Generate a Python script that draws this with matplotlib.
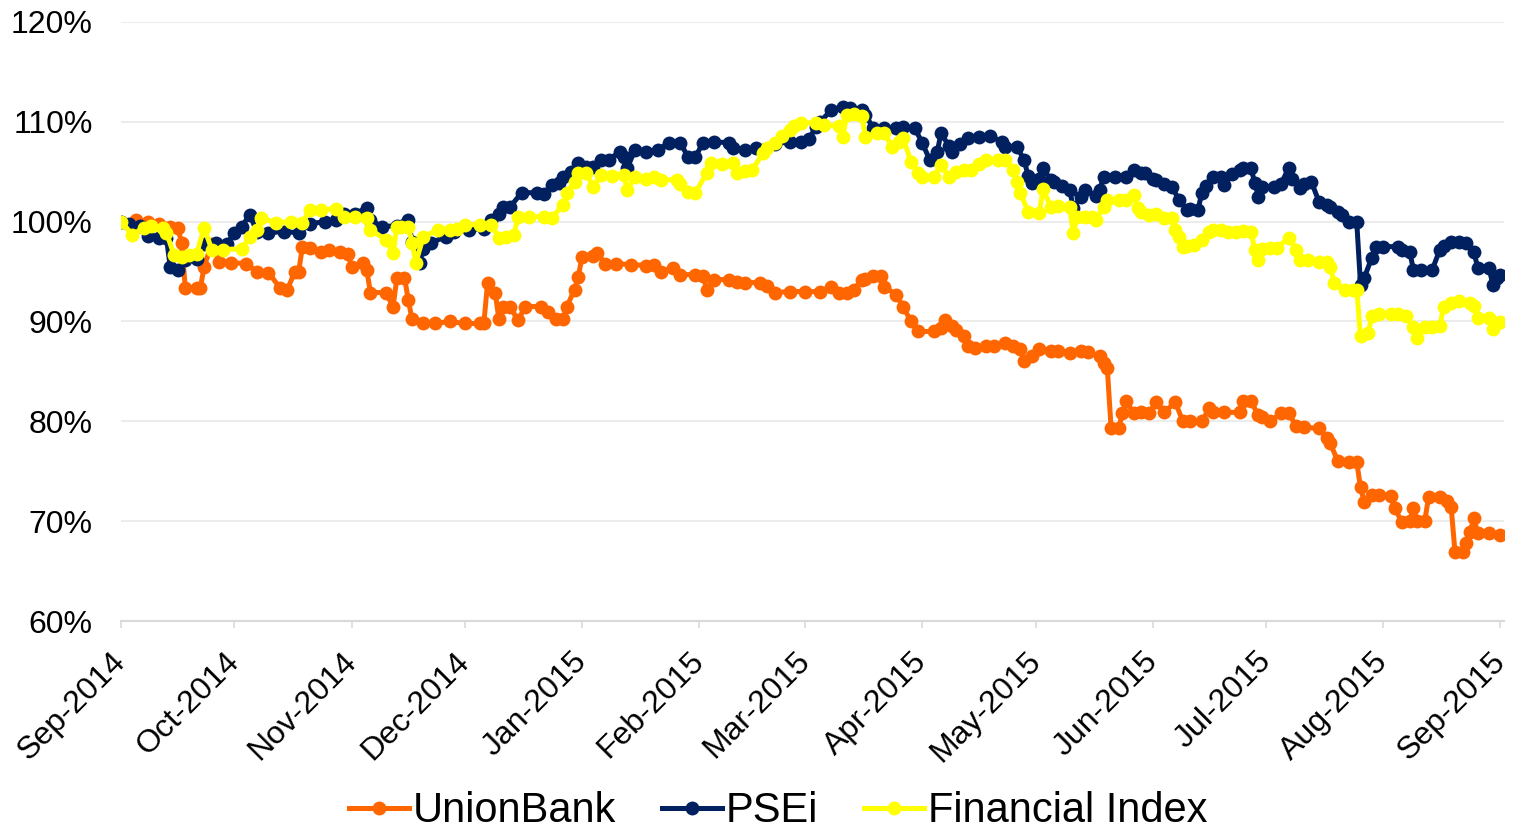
import pandas as pd
import matplotlib
matplotlib.use("Agg")
import matplotlib.pyplot as plt
import matplotlib.dates as mdates
from matplotlib.ticker import FuncFormatter
from matplotlib.transforms import ScaledTranslation

plt.rcParams['font.family'] = ['Liberation Sans', 'DejaVu Sans']

# values (relative to 1 Sep 2014, in %)
ub_dates = ["2014-09-01", "2014-09-05", "2014-09-08", "2014-09-11", "2014-09-14", "2014-09-16", "2014-09-17",
            "2014-09-18", "2014-09-21", "2014-09-22", "2014-09-23", "2014-09-25", "2014-09-27", "2014-09-30",
            "2014-10-04", "2014-10-07", "2014-10-10", "2014-10-13", "2014-10-15", "2014-10-17", "2014-10-18",
            "2014-10-19", "2014-10-21", "2014-10-24", "2014-10-26", "2014-10-29", "2014-10-31", "2014-11-01",
            "2014-11-04", "2014-11-05", "2014-11-06", "2014-11-10", "2014-11-12", "2014-11-13", "2014-11-15",
            "2014-11-16", "2014-11-17", "2014-11-20", "2014-11-23", "2014-11-27", "2014-12-01", "2014-12-05",
            "2014-12-06", "2014-12-07", "2014-12-09", "2014-12-10", "2014-12-11", "2014-12-13", "2014-12-15",
            "2014-12-17", "2014-12-21", "2014-12-23", "2014-12-25", "2014-12-27", "2014-12-28", "2014-12-30",
            "2014-12-31", "2015-01-01", "2015-01-04", "2015-01-05", "2015-01-07", "2015-01-10", "2015-01-14",
            "2015-01-18", "2015-01-20", "2015-01-22", "2015-01-25", "2015-01-27", "2015-01-31", "2015-02-02",
            "2015-02-03", "2015-02-05", "2015-02-09", "2015-02-11", "2015-02-13", "2015-02-17", "2015-02-19",
            "2015-02-21", "2015-02-25", "2015-03-01", "2015-03-05", "2015-03-08", "2015-03-10", "2015-03-12",
            "2015-03-14", "2015-03-16", "2015-03-17", "2015-03-19", "2015-03-21", "2015-03-22", "2015-03-25",
            "2015-03-27", "2015-03-29", "2015-03-31", "2015-04-04", "2015-04-06", "2015-04-07", "2015-04-09",
            "2015-04-10", "2015-04-12", "2015-04-13", "2015-04-15", "2015-04-18", "2015-04-20", "2015-04-23",
            "2015-04-25", "2015-04-27", "2015-04-28", "2015-04-30", "2015-05-02", "2015-05-05", "2015-05-07",
            "2015-05-10", "2015-05-13", "2015-05-15", "2015-05-18", "2015-05-19", "2015-05-20", "2015-05-21",
            "2015-05-23", "2015-05-24", "2015-05-25", "2015-05-27", "2015-05-29", "2015-05-31", "2015-06-02",
            "2015-06-04", "2015-06-07", "2015-06-09", "2015-06-11", "2015-06-14", "2015-06-16", "2015-06-17",
            "2015-06-20", "2015-06-24", "2015-06-25", "2015-06-27", "2015-06-29", "2015-06-30", "2015-07-02",
            "2015-07-05", "2015-07-07", "2015-07-09", "2015-07-11", "2015-07-15", "2015-07-17", "2015-07-18",
            "2015-07-20", "2015-07-23", "2015-07-25", "2015-07-26", "2015-07-27", "2015-07-29", "2015-07-31",
            "2015-08-03", "2015-08-04", "2015-08-06", "2015-08-08", "2015-08-09", "2015-08-10", "2015-08-12",
            "2015-08-13", "2015-08-16", "2015-08-18", "2015-08-19", "2015-08-20", "2015-08-22", "2015-08-23",
            "2015-08-24", "2015-08-25", "2015-08-26", "2015-08-29", "2015-09-01"]
ub_vals = [100.0, 100.2, 100.0, 99.8, 99.5, 99.4, 97.9,
           93.4, 93.4, 93.4, 95.5, 97.8, 96.0, 95.9,
           95.8, 95.0, 94.9, 93.4, 93.2, 95.0, 95.0,
           97.5, 97.4, 97.0, 97.2, 97.0, 96.8, 95.5,
           95.9, 95.2, 92.9, 92.9, 91.5, 94.4, 94.4,
           92.2, 90.2, 89.8, 89.8, 90.0, 89.8, 89.8,
           89.8, 93.9, 92.9, 90.2, 91.5, 91.5, 90.1,
           91.5, 91.5, 91.0, 90.2, 90.2, 91.5, 93.2,
           94.5, 96.5, 96.6, 96.9, 95.8, 95.8, 95.7,
           95.6, 95.7, 95.0, 95.4, 94.7, 94.7, 94.6,
           93.2, 94.2, 94.2, 94.0, 93.9, 93.9, 93.6,
           92.9, 93.0, 93.0, 93.0, 93.5, 92.9, 92.9,
           93.2, 94.2, 94.3, 94.6, 94.6, 93.5, 92.7,
           91.5, 90.0, 89.0, 89.0, 89.3, 90.1, 89.5,
           89.1, 88.5, 87.5, 87.3, 87.5, 87.5, 87.8,
           87.5, 87.2, 86.0, 86.5, 87.2, 87.0, 87.0,
           86.8, 87.0, 86.9, 86.5, 85.8, 85.3, 79.3,
           79.3, 80.8, 82.0, 80.8, 80.9, 80.8, 81.9,
           80.9, 81.9, 80.0, 80.0, 80.0, 81.3, 80.9,
           80.9, 80.9, 82.0, 82.0, 80.6, 80.4, 80.0,
           80.8, 80.8, 79.5, 79.4, 79.3, 78.3, 77.8,
           76.0, 75.9, 75.9, 73.4, 71.9, 72.6, 72.6,
           72.5, 71.3, 69.9, 70.0, 71.3, 70.0, 70.0,
           72.4, 72.4, 72.0, 71.4, 66.9, 66.9, 67.8,
           68.9, 70.3, 68.8, 68.8, 68.6]

psei_dates = ["2014-09-01", "2014-09-03", "2014-09-06", "2014-09-08", "2014-09-11", "2014-09-13", "2014-09-14",
              "2014-09-16", "2014-09-18", "2014-09-21", "2014-09-23", "2014-09-26", "2014-09-29", "2014-10-01",
              "2014-10-03", "2014-10-05", "2014-10-07", "2014-10-10", "2014-10-14", "2014-10-18", "2014-10-21",
              "2014-10-25", "2014-10-28", "2014-10-30", "2014-11-02", "2014-11-05", "2014-11-06", "2014-11-09",
              "2014-11-13", "2014-11-15", "2014-11-16", "2014-11-17", "2014-11-19", "2014-11-20", "2014-11-22",
              "2014-11-26", "2014-11-28", "2014-12-02", "2014-12-06", "2014-12-08", "2014-12-10", "2014-12-11",
              "2014-12-13", "2014-12-16", "2014-12-20", "2014-12-22", "2014-12-24", "2014-12-26", "2014-12-27",
              "2014-12-29", "2014-12-31", "2015-01-02", "2015-01-04", "2015-01-06", "2015-01-08", "2015-01-11",
              "2015-01-12", "2015-01-13", "2015-01-15", "2015-01-18", "2015-01-21", "2015-01-24", "2015-01-27",
              "2015-01-29", "2015-01-31", "2015-02-02", "2015-02-05", "2015-02-09", "2015-02-10", "2015-02-13",
              "2015-02-16", "2015-02-18", "2015-02-21", "2015-02-25", "2015-02-28", "2015-03-02", "2015-03-04",
              "2015-03-05", "2015-03-08", "2015-03-11", "2015-03-13", "2015-03-16", "2015-03-17", "2015-03-19",
              "2015-03-22", "2015-03-25", "2015-03-27", "2015-03-30", "2015-04-01", "2015-04-03", "2015-04-05",
              "2015-04-06", "2015-04-08", "2015-04-09", "2015-04-11", "2015-04-13", "2015-04-16", "2015-04-19",
              "2015-04-22", "2015-04-23", "2015-04-26", "2015-04-28", "2015-04-29", "2015-04-30", "2015-05-02",
              "2015-05-03", "2015-05-05", "2015-05-06", "2015-05-08", "2015-05-10", "2015-05-11", "2015-05-13",
              "2015-05-14", "2015-05-17", "2015-05-18", "2015-05-19", "2015-05-22", "2015-05-25", "2015-05-27",
              "2015-05-29", "2015-05-30", "2015-06-01", "2015-06-02", "2015-06-04", "2015-06-06", "2015-06-08",
              "2015-06-10", "2015-06-11", "2015-06-13", "2015-06-14", "2015-06-15", "2015-06-17", "2015-06-19",
              "2015-06-20", "2015-06-22", "2015-06-24", "2015-06-25", "2015-06-27", "2015-06-28", "2015-06-29",
              "2015-06-30", "2015-07-03", "2015-07-05", "2015-07-07", "2015-07-08", "2015-07-10", "2015-07-11",
              "2015-07-13", "2015-07-15", "2015-07-17", "2015-07-18", "2015-07-20", "2015-07-21", "2015-07-23",
              "2015-07-25", "2015-07-26", "2015-07-27", "2015-07-29", "2015-07-30", "2015-08-01", "2015-08-05",
              "2015-08-06", "2015-08-08", "2015-08-09", "2015-08-11", "2015-08-14", "2015-08-16", "2015-08-17",
              "2015-08-19", "2015-08-21", "2015-08-23", "2015-08-25", "2015-08-26", "2015-08-29", "2015-08-30",
              "2015-08-31", "2015-09-01"]
psei_vals = [100.0, 99.8, 99.6, 98.6, 98.4, 98.4, 95.5,
             95.2, 96.2, 96.3, 97.8, 97.9, 97.8, 98.9,
             99.5, 100.7, 99.0, 98.9, 99.0, 98.9, 99.8,
             100.0, 100.2, 100.8, 100.8, 101.4, 100.2, 99.5,
             99.6, 99.7, 100.2, 98.0, 95.9, 97.3, 97.9,
             98.5, 99.0, 99.2, 99.3, 100.2, 100.8, 101.5,
             101.5, 102.9, 102.9, 102.8, 103.7, 103.9, 104.5,
             105.0, 105.9, 105.5, 105.5, 106.2, 106.2, 107.0,
             106.5, 105.4, 107.2, 107.0, 107.2, 107.9, 107.9,
             106.5, 106.5, 107.9, 108.0, 107.9, 107.4, 107.2,
             107.4, 107.2, 107.8, 108.0, 108.0, 108.3, 109.5,
             110.0, 111.2, 111.5, 111.4, 111.2, 110.7, 109.4,
             109.4, 109.4, 109.5, 109.4, 107.9, 106.2, 107.0,
             108.9, 107.6, 107.0, 107.8, 108.4, 108.5, 108.6,
             108.0, 107.5, 107.5, 106.2, 104.6, 103.9, 104.3,
             105.4, 104.2, 104.0, 103.6, 103.2, 101.4, 102.5,
             103.2, 102.6, 103.2, 104.5, 104.5, 104.5, 105.2,
             104.9, 104.9, 104.3, 104.2, 103.8, 103.5, 102.2,
             101.2, 101.3, 101.2, 102.9, 103.6, 104.5, 104.5,
             103.7, 104.8, 105.2, 105.4, 105.4, 103.9, 102.5,
             103.5, 103.5, 103.8, 105.4, 104.3, 103.4, 103.8,
             104.0, 102.0, 101.7, 101.5, 101.0, 100.7, 100.0,
             100.0, 93.7, 94.4, 96.4, 97.5, 97.5, 97.5,
             97.2, 97.0, 95.2, 95.2, 95.2, 97.2, 97.6,
             98.0, 98.0, 97.9, 97.0, 95.4, 95.4, 93.7,
             94.4, 94.7]

fin_dates = ["2014-09-01", "2014-09-04", "2014-09-07", "2014-09-09", "2014-09-12", "2014-09-13", "2014-09-15",
             "2014-09-17", "2014-09-19", "2014-09-21", "2014-09-23", "2014-09-25", "2014-09-28", "2014-10-03",
             "2014-10-05", "2014-10-07", "2014-10-08", "2014-10-12", "2014-10-16", "2014-10-19", "2014-10-21",
             "2014-10-24", "2014-10-28", "2014-10-30", "2014-11-02", "2014-11-05", "2014-11-06", "2014-11-10",
             "2014-11-12", "2014-11-13", "2014-11-14", "2014-11-16", "2014-11-17", "2014-11-18", "2014-11-20",
             "2014-11-24", "2014-11-27", "2014-11-29", "2014-12-01", "2014-12-05", "2014-12-08", "2014-12-10",
             "2014-12-12", "2014-12-14", "2014-12-15", "2014-12-18", "2014-12-22", "2014-12-24", "2014-12-27",
             "2014-12-28", "2014-12-30", "2014-12-31", "2015-01-02", "2015-01-04", "2015-01-06", "2015-01-09",
             "2015-01-12", "2015-01-13", "2015-01-15", "2015-01-18", "2015-01-20", "2015-01-22", "2015-01-26",
             "2015-01-27", "2015-01-29", "2015-01-31", "2015-02-03", "2015-02-04", "2015-02-07", "2015-02-10",
             "2015-02-11", "2015-02-13", "2015-02-15", "2015-02-18", "2015-02-19", "2015-02-21", "2015-02-23",
             "2015-02-25", "2015-02-26", "2015-02-28", "2015-03-04", "2015-03-06", "2015-03-10", "2015-03-11",
             "2015-03-12", "2015-03-14", "2015-03-16", "2015-03-17", "2015-03-20", "2015-03-22", "2015-03-24",
             "2015-03-26", "2015-03-27", "2015-03-29", "2015-03-31", "2015-04-01", "2015-04-04", "2015-04-06",
             "2015-04-08", "2015-04-10", "2015-04-12", "2015-04-14", "2015-04-16", "2015-04-18", "2015-04-21",
             "2015-04-23", "2015-04-25", "2015-04-26", "2015-04-27", "2015-04-29", "2015-05-02", "2015-05-03",
             "2015-05-05", "2015-05-07", "2015-05-10", "2015-05-11", "2015-05-12", "2015-05-14", "2015-05-16",
             "2015-05-17", "2015-05-19", "2015-05-20", "2015-05-23", "2015-05-25", "2015-05-27", "2015-05-28",
             "2015-05-29", "2015-05-31", "2015-06-02", "2015-06-04", "2015-06-06", "2015-06-07", "2015-06-08",
             "2015-06-09", "2015-06-10", "2015-06-12", "2015-06-14", "2015-06-16", "2015-06-17", "2015-06-19",
             "2015-06-21", "2015-06-23", "2015-06-25", "2015-06-27", "2015-06-28", "2015-06-29", "2015-06-30",
             "2015-07-02", "2015-07-04", "2015-07-07", "2015-07-09", "2015-07-10", "2015-07-12", "2015-07-15",
             "2015-07-17", "2015-07-18", "2015-07-19", "2015-07-22", "2015-07-24", "2015-07-25", "2015-07-26",
             "2015-07-28", "2015-07-29", "2015-07-31", "2015-08-03", "2015-08-05", "2015-08-07", "2015-08-09",
             "2015-08-10", "2015-08-12", "2015-08-14", "2015-08-16", "2015-08-17", "2015-08-19", "2015-08-21",
             "2015-08-24", "2015-08-25", "2015-08-26", "2015-08-29", "2015-08-30", "2015-08-31", "2015-09-01"]
fin_vals = [100.0, 98.7, 99.4, 99.6, 99.4, 98.9, 96.7,
            96.5, 96.7, 96.8, 99.4, 97.2, 97.2, 97.3,
            98.5, 99.2, 100.4, 99.9, 100.0, 99.9, 101.2,
            101.2, 101.3, 100.5, 100.5, 100.4, 99.2, 98.2,
            96.9, 99.5, 99.5, 99.5, 97.9, 95.9, 98.5,
            99.2, 99.2, 99.3, 99.7, 99.7, 99.7, 98.4,
            98.5, 98.7, 100.5, 100.5, 100.5, 100.4, 101.7,
            102.9, 104.0, 104.9, 104.9, 103.5, 104.7, 104.6,
            104.7, 103.2, 104.5, 104.3, 104.5, 104.2, 104.2,
            103.8, 103.0, 102.9, 104.9, 105.9, 105.8, 105.9,
            104.9, 105.1, 105.2, 106.9, 107.4, 107.9, 108.6,
            109.2, 109.6, 109.9, 109.9, 109.7, 109.6, 108.5,
            110.7, 110.8, 110.6, 108.5, 108.9, 108.9, 107.5,
            108.0, 108.4, 106.0, 104.9, 104.5, 104.5, 105.7,
            104.5, 105.0, 105.2, 105.2, 105.8, 106.2, 106.2,
            106.2, 105.2, 104.0, 102.9, 101.0, 100.9, 103.3,
            101.5, 101.6, 101.5, 98.9, 100.5, 100.5, 100.5,
            100.2, 101.5, 102.2, 102.2, 102.2, 102.7, 101.4,
            101.0, 100.7, 100.8, 100.4, 100.4, 99.2, 98.5,
            97.5, 97.6, 97.7, 98.2, 99.0, 99.2, 99.2,
            99.0, 99.0, 99.1, 99.0, 97.2, 96.2, 97.3,
            97.4, 97.4, 98.4, 97.2, 96.2, 96.2, 96.0,
            96.0, 95.5, 93.9, 93.2, 93.2, 93.2, 88.5,
            88.8, 90.6, 90.8, 90.8, 90.8, 90.6, 89.4,
            88.3, 89.4, 89.4, 89.5, 91.5, 91.9, 92.1,
            91.9, 91.6, 90.4, 90.4, 89.2, 89.8, 89.9]

series = [
    ("UnionBank", ub_dates, ub_vals, "#FF6600"),
    ("PSEi", psei_dates, psei_vals, "#002060"),
    ("Financial Index", fin_dates, fin_vals, "#FFFF00"),
]

fig = plt.figure(figsize=(15.17, 8.33), dpi=100)
ax = fig.add_axes([0.0798, 0.2545, 0.9117, 0.7191])

for name, d, v, c in series:
    ax.plot(pd.to_datetime(d), v, color=c, lw=3.6, marker="o", ms=10,
            markeredgewidth=0, label=name)

ax.set_ylim(60, 120)
ax.set_yticks(range(60, 121, 10))
ax.yaxis.set_major_formatter(FuncFormatter(lambda v, p: f"{v:.0f}%"))
ax.set_xlim(pd.Timestamp("2014-09-01"), pd.Timestamp("2015-09-02"))
ax.xaxis.set_major_locator(mdates.MonthLocator())
ax.xaxis.set_major_formatter(mdates.DateFormatter("%b-%Y"))

ax.grid(True, axis="y", color="#ECECEC", lw=1.5)
ax.set_axisbelow(True)
for s in ["top", "right", "left"]:
    ax.spines[s].set_visible(False)
ax.spines["bottom"].set_color("#D9D9D9")
ax.spines["bottom"].set_linewidth(1.5)

ax.tick_params(axis="y", length=0, pad=20.5, labelsize=23, labelcolor="black")
ax.tick_params(axis="x", length=5, width=1.2, color="#D9D9D9", pad=25,
               labelsize=23, labelcolor="black")
plt.setp(ax.get_xticklabels(), rotation=45, ha="right", va="baseline",
         rotation_mode="anchor")

# nudge month labels a few pixels right, like the original
fig.canvas.draw()
shift = ScaledTranslation(0.06, 0, fig.dpi_scale_trans)
for lab in ax.xaxis.get_majorticklabels():
    lab.set_transform(lab.get_transform() + shift)

fig.legend(loc="center", bbox_to_anchor=(0.513, 0.026), ncol=3, frameon=False,
           fontsize=30, handlelength=1.44, handletextpad=0.1, columnspacing=1.1,
           borderaxespad=0)

fig.savefig("out.png", dpi=100)
